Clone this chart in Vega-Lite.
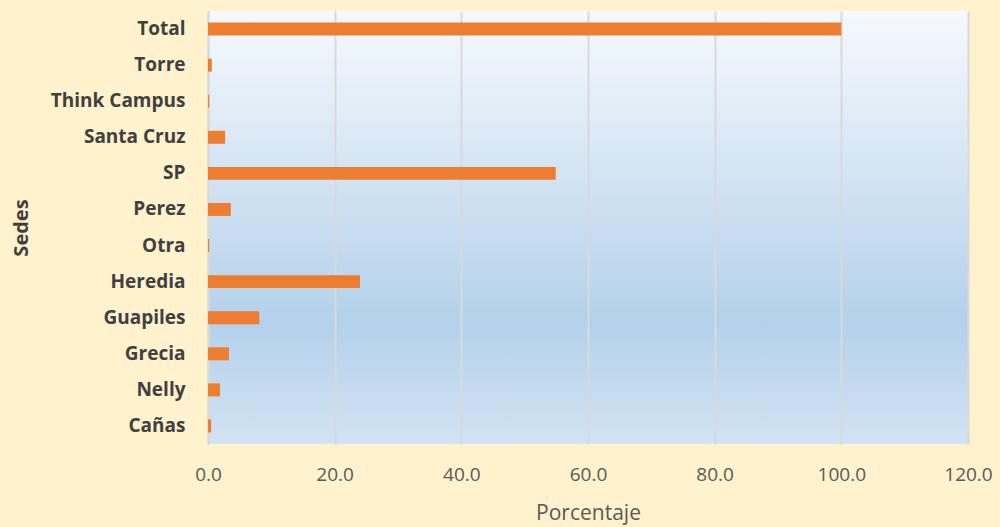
{
  "$schema": "https://vega.github.io/schema/vega-lite/v6.json",
  "width": 760,
  "height": 433,
  "autosize": {"type": "none"},
  "padding": {"left": 208, "top": 11, "right": 32, "bottom": 83},
  "background": "#FFF2CC",
  "view": {
    "stroke": null,
    "fill": {
      "gradient": "linear", "x1": 0, "y1": 0, "x2": 0, "y2": 1,
      "stops": [
        {"offset": 0, "color": "#F6F9FD"},
        {"offset": 0.72, "color": "#B4D1EB"},
        {"offset": 1, "color": "#D2E3F3"}
      ]
    }
  },
  "data": {
    "values": [
      {"sede": "Total", "pct": 100},
      {"sede": "Torre", "pct": 0.6},
      {"sede": "Think Campus", "pct": 0.2},
      {"sede": "Santa Cruz", "pct": 2.7},
      {"sede": "SP", "pct": 54.9},
      {"sede": "Perez", "pct": 3.6},
      {"sede": "Otra", "pct": 0.2},
      {"sede": "Heredia", "pct": 24.0},
      {"sede": "Guapiles", "pct": 8.1},
      {"sede": "Grecia ", "pct": 3.3},
      {"sede": "Nelly ", "pct": 1.9},
      {"sede": "Cañas", "pct": 0.5}
    ]
  },
  "mark": {"type": "bar", "color": "#ED7D31"},
  "encoding": {
    "y": {
      "field": "sede", "type": "nominal", "sort": null,
      "scale": {"paddingInner": 0.64, "paddingOuter": 0.32},
      "axis": {
        "title": "Sedes", "titleFont": "Open Sans", "titleFontSize": 20, "titleFontWeight": "bold",
        "titleColor": "#404040", "titlePadding": 19,
        "labelFont": "Open Sans", "labelFontSize": 19, "labelFontWeight": "bold", "labelColor": "#404040",
        "labelPadding": 23, "ticks": false, "domain": true, "domainColor": "#D9D9D9", "domainWidth": 2,
        "grid": false
      }
    },
    "x": {
      "field": "pct", "type": "quantitative",
      "scale": {"domain": [0, 120], "nice": false},
      "axis": {
        "title": "Porcentaje", "titleFont": "Open Sans", "titleFontSize": 21, "titleFontWeight": "normal",
        "titleColor": "#595959", "titlePadding": 18,
        "values": [0, 20, 40, 60, 80, 100, 120], "format": ".1f", "labelFlush": false,
        "labelFont": "Open Sans", "labelFontSize": 19, "labelColor": "#595959", "labelPadding": 21,
        "ticks": false, "domain": false,
        "grid": true, "gridColor": "#D9D9D9", "gridWidth": 2
      }
    }
  }
}
